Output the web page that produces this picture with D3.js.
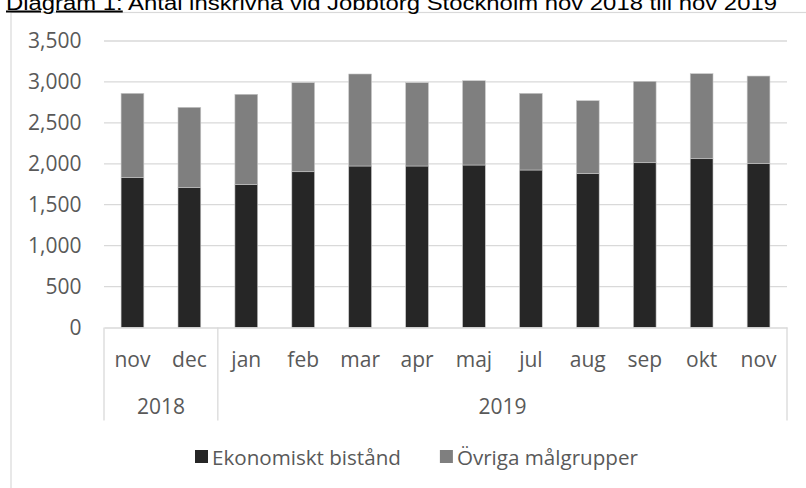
<!DOCTYPE html>
<html>
<head>
<meta charset="utf-8">
<script src="https://cdn.jsdelivr.net/npm/d3@7"></script>
<style>
  body { margin: 0; background: #fff; }
  svg { display: block; }
</style>
</head>
<body>
<div id="canvas"></div>
<script>
const months = ["nov", "dec", "jan", "feb", "mar", "apr", "maj", "jul", "aug", "sep", "okt", "nov"];
const years = [
  { label: "2018", from: 0, to: 1 },
  { label: "2019", from: 2, to: 11 }
];
const ekonomiskt = [1830, 1708, 1745, 1903, 1973, 1973, 1985, 1924, 1883, 2013, 2062, 2001];
const ovriga = [1031, 982, 1104, 1088, 1124, 1018, 1030, 937, 888, 994, 1039, 1071];
const seriesNames = ["Ekonomiskt bistånd", "Övriga målgrupper"];
const seriesColors = ["#262626", "#7f7f7f"];
const yTicks = [0, 500, 1000, 1500, 2000, 2500, 3000, 3500];

const width = 806;
const height = 488;
const margin = { top: 41, left: 104, right: 19, bottom: 160.5 };
const iwidth = width - margin.left - margin.right;
const iheight = height - margin.top - margin.bottom;

const svg = d3.select("#canvas").append("svg")
  .attr("width", width)
  .attr("height", height)
  .style("font-family", "'Open Sans', sans-serif");

// chart frame
svg.append("rect")
  .attr("x", 11).attr("y", 12.5)
  .attr("width", 820).attr("height", 500)
  .attr("fill", "none")
  .attr("stroke", "#d9d9d9")
  .attr("stroke-width", 1.2);

// title, cut at the top as in the picture
const title = svg.append("text")
  .attr("x", 6).attr("y", 9.5)
  .attr("font-family", "'Liberation Sans', Arial, sans-serif")
  .attr("font-size", 20)
  .attr("fill", "#000")
  .attr("textLength", 771)
  .attr("lengthAdjust", "spacingAndGlyphs");
title.append("tspan").attr("text-decoration", "underline").text("Diagram 1:");
title.append("tspan").text(" Antal inskrivna vid Jobbtorg Stockholm nov 2018 till nov 2019");

const g = svg.append("g")
  .attr("transform", `translate(${margin.left}, ${margin.top})`);

const y = d3.scaleLinear().domain([0, 3500]).range([iheight, 0]);
const x = d3.scaleBand()
  .domain(d3.range(months.length))
  .range([0, iwidth])
  .paddingInner(0.6)
  .paddingOuter(0.3);

// gridlines
g.append("g")
  .selectAll("line")
  .data(yTicks.filter((t) => t > 0))
  .enter()
  .append("line")
  .attr("x1", 0).attr("x2", iwidth)
  .attr("y1", (t) => y(t)).attr("y2", (t) => y(t))
  .attr("stroke", "#d9d9d9")
  .attr("stroke-width", 1.3);

// stacked bars
const rows = months.map((m, i) => ({ i: i, ek: ekonomiskt[i], ov: ovriga[i] }));
const stack = d3.stack().keys(["ek", "ov"])(rows);

g.append("g")
  .selectAll("g")
  .data(stack)
  .enter()
  .append("g")
  .attr("fill", (d, k) => seriesColors[k])
  .selectAll("rect")
  .data((d) => d)
  .enter()
  .append("rect")
  .attr("x", (d) => x(d.data.i))
  .attr("y", (d) => y(d[1]))
  .attr("height", (d) => y(d[0]) - y(d[1]))
  .attr("width", x.bandwidth())
  .attr("stroke", "#c8c8c8")
  .attr("stroke-width", 0.6);

// y axis labels
const yAxis = g.append("g")
  .call(d3.axisLeft(y).tickValues(yTicks).tickFormat(d3.format(",")).tickSize(0).tickPadding(22.5));
yAxis.select(".domain").remove();
yAxis.selectAll("text")
  .attr("font-family", "'Open Sans', sans-serif")
  .attr("font-size", 21)
  .attr("fill", "#595959");

// x axis: months
const xAxis = g.append("g")
  .attr("transform", `translate(0, ${iheight})`)
  .call(d3.axisBottom(x).tickFormat((i) => months[i]).tickSize(0).tickPadding(0));
xAxis.select(".domain")
  .attr("stroke", "#d9d9d9")
  .attr("stroke-width", 1.3);
xAxis.selectAll("text")
  .attr("font-family", "'Open Sans', sans-serif")
  .attr("font-size", 21)
  .attr("fill", "#595959")
  .attr("dy", null)
  .attr("y", 39);

// group dividers and year labels
const step = x.step();
const edge = (i) => x(i) - step * x.paddingInner() / 2;
const dividers = [0].concat(years.map((yr) => yr.to + 1));
g.append("g")
  .selectAll("line")
  .data(dividers)
  .enter()
  .append("line")
  .attr("x1", (i) => (i < months.length ? edge(i) : iwidth))
  .attr("x2", (i) => (i < months.length ? edge(i) : iwidth))
  .attr("y1", iheight)
  .attr("y2", iheight + 93)
  .attr("stroke", "#d9d9d9")
  .attr("stroke-width", 1.3);

g.append("g")
  .selectAll("text")
  .data(years)
  .enter()
  .append("text")
  .attr("x", (yr) => {
    const a = edge(yr.from);
    const b = yr.to + 1 < months.length ? edge(yr.to + 1) : iwidth;
    return (a + b) / 2;
  })
  .attr("y", iheight + 86)
  .attr("text-anchor", "middle")
  .attr("font-size", 21)
  .attr("fill", "#595959")
  .text((yr) => yr.label);

// legend
const legend = svg.append("g").attr("transform", "translate(195, 457)");
let lx = 0;
seriesNames.forEach((name, k) => {
  legend.append("rect")
    .attr("x", lx).attr("y", -7)
    .attr("width", 13).attr("height", 13)
    .attr("fill", seriesColors[k]);
  const t = legend.append("text")
    .attr("x", lx + 17).attr("y", 7.5)
    .attr("font-size", 20.6)
    .attr("fill", "#595959")
    .text(name);
  lx += 17 + t.node().getComputedTextLength() + 39;
});
</script>
</body>
</html>
